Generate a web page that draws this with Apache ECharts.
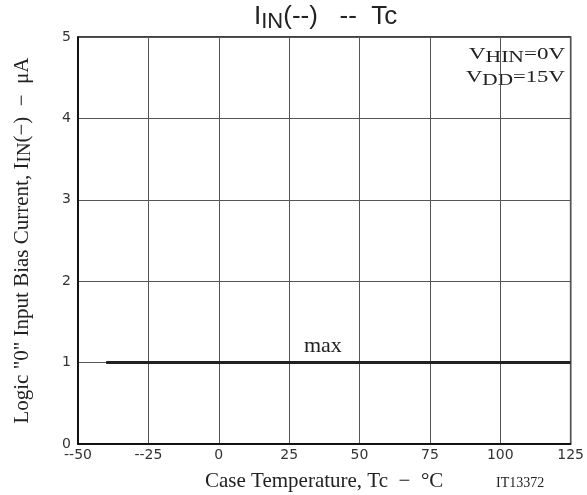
<!DOCTYPE html>
<html><head><meta charset="utf-8">
<script src="https://cdn.jsdelivr.net/npm/echarts@6/dist/echarts.min.js"></script>
<style>html,body{margin:0;padding:0;background:#fff}#c{width:587px;height:495px}</style>
</head><body><div id="c"></div>
<script>
var xTicks = [-50, -25, 0, 25, 50, 75, 100, 125];
var yTicks = [0, 1, 2, 3, 4, 5];
var maxTemp = [-40, 125];
var maxCurrent = [1, 1];
var maxLabelAt = [37, 1];
var serif = '"Liberation Serif","Times New Roman",serif';
var sans = '"Liberation Sans",Arial,sans-serif';

var chart = echarts.init(document.getElementById('c'));
chart.setOption({
  animation: false,
  backgroundColor: '#fff',
  grid: { left: 78, right: 15, top: 37, bottom: 51, show: true, borderColor: '#000', borderWidth: 1.5 },
  xAxis: {
    type: 'value', min: xTicks[0], max: xTicks[xTicks.length - 1], interval: 25,
    axisLine: { lineStyle: { color: '#000', width: 1.5 } },
    axisTick: { show: false },
    splitLine: { show: true, lineStyle: { color: '#555', width: 1 } },
    axisLabel: { color: '#333', fontFamily: '"DejaVu Sans",sans-serif', fontSize: 14, margin: 4,
      formatter: function (v) { return v < 0 ? '--' + (-v) : String(v); } }
  },
  yAxis: {
    type: 'value', min: yTicks[0], max: yTicks[yTicks.length - 1], interval: 1,
    axisLine: { show: true, onZero: false, lineStyle: { color: '#000', width: 1.5 } },
    axisTick: { show: false },
    splitLine: { show: true, lineStyle: { color: '#555', width: 1 } },
    axisLabel: { color: '#333', fontFamily: '"DejaVu Sans",sans-serif', fontSize: 14, margin: 7 },
    name: '{t|Logic "0" Input Bias Current, I}{s|IN}{t|(−)  −  μA}',
    nameLocation: 'middle', nameGap: 43,
    nameTextStyle: { rich: {
      t: { fontFamily: serif, fontSize: 21, color: '#222' },
      s: { fontFamily: serif, fontSize: 19, color: '#222', padding: [7, 0, 0, 0] }
    } }
  },
  series: [{
    type: 'line',
    data: maxTemp.map(function (t, i) { return [t, maxCurrent[i]]; }),
    showSymbol: false,
    lineStyle: { color: '#222', width: 3 },
    markPoint: {
      symbolSize: 0,
      data: [{ coord: maxLabelAt, label: { show: true, formatter: 'max', position: 'top', distance: 5,
        fontFamily: serif, fontSize: 22, color: '#222' } }]
    }
  }],
  graphic: [
    { type: 'text', left: 254, top: 4, style: {
      text: '{b|I}{s|IN}{b|(--)   --  Tc}',
      rich: {
        b: { fontFamily: sans, fontSize: 26, fill: '#222' },
        s: { fontFamily: sans, fontSize: 22, fill: '#222', padding: [9, 0, 0, 0] }
      } } },
    { type: 'text', x: 469, y: 44, scaleX: 1.35, style: {
      text: '{v|V}{s|HIN}{v|=0V}',
      rich: {
        v: { fontFamily: serif, fontSize: 17, fill: '#222' },
        s: { fontFamily: serif, fontSize: 16, fill: '#222', padding: [6, 0, 0, 0] }
      } } },
    { type: 'text', x: 466, y: 67, scaleX: 1.33, style: {
      text: '{v|V}{s|DD}{v|=15V}',
      rich: {
        v: { fontFamily: serif, fontSize: 17, fill: '#222' },
        s: { fontFamily: serif, fontSize: 16, fill: '#222', padding: [6, 0, 0, 0] }
      } } },
    { type: 'text', left: 205, top: 471, style: {
      text: 'Case Temperature, Tc  −  °C', fontFamily: serif, fontSize: 21, fill: '#222' } },
    { type: 'text', left: 496, top: 476, style: {
      text: 'IT13372', fontFamily: serif, fontSize: 14, fill: '#222' } }
  ]
});
</script></body></html>
